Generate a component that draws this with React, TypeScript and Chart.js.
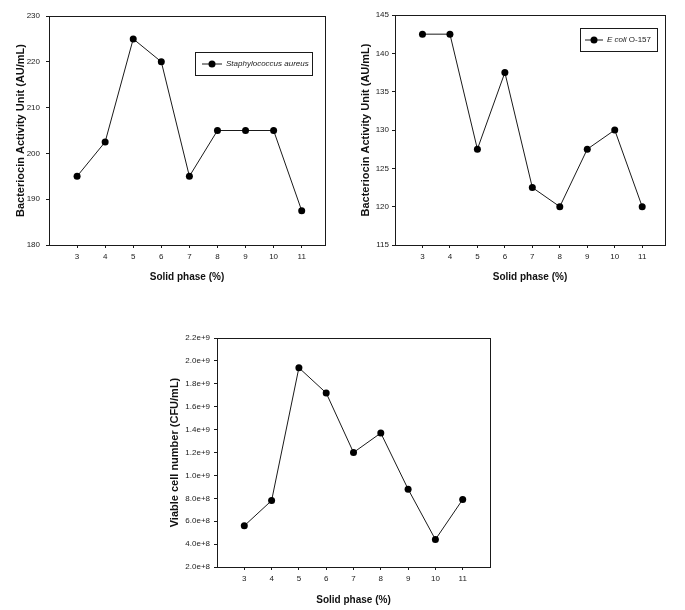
import React, { useEffect, useRef } from "react";
import { Chart, registerables } from "chart.js";

Chart.register(...registerables);

// ---- data ----
const solidPhase = [3, 4, 5, 6, 7, 8, 9, 10, 11];
const staphActivity = [195, 202.5, 225, 220, 195, 205, 205, 205, 187.5];
const ecoliActivity = [142.5, 142.5, 127.5, 137.5, 122.5, 120, 127.5, 130, 120];
const viableCells = [5.6e8, 7.8e8, 1.94e9, 1.72e9, 1.2e9, 1.37e9, 8.8e8, 4.4e8, 7.9e8];

const xTitle = "Solid phase (%)";
const yTitleActivity = "Bacteriocin Activity Unit (AU/mL)";
const yTitleCells = "Viable cell number (CFU/mL)";
const staphLegend = [{ text: "Staphylococcus aureus", italic: true }];
const ecoliLegend = [
  { text: "E coli", italic: true },
  { text: " O-157", italic: false },
];

const FAMILY = 'Arial, "Liberation Sans", Helvetica, sans-serif';
const INK = "#1a1a1a";

type Part = { text: string; italic: boolean };
type Panel = {
  left: number;
  top: number;
  width: number;
  height: number;
  values: number[];
  yMin: number;
  yMax: number;
  yStep: number;
  xMax: number;
  yFormat: (v: number) => string;
  yTitle: string;
  pad: { left: number; top: number; right: number; bottom: number };
  yWidth: number;
  xHeight: number;
  yTickPad: number;
  yTitlePad: number;
  xTickPad: number;
  xTitlePad: number;
  legend?: { x: number; y: number; w: number; h: number; l1: number; l2: number; tx: number; parts: Part[] };
};

const framePlugin = {
  id: "frame",
  afterDraw(chart: any) {
    const { ctx, chartArea: a } = chart;
    ctx.save();
    ctx.strokeStyle = INK;
    ctx.lineWidth = 1;
    ctx.strokeRect(
      Math.round(a.left) + 0.5,
      Math.round(a.top) + 0.5,
      Math.round(a.right - a.left),
      Math.round(a.bottom - a.top)
    );
    ctx.restore();
  },
};

function makeLegend(lg: NonNullable<Panel["legend"]>) {
  return {
    id: "boxLegend",
    afterDraw(chart: any) {
      const ctx = chart.ctx;
      ctx.save();
      ctx.strokeStyle = INK;
      ctx.lineWidth = 1;
      ctx.strokeRect(lg.x + 0.5, lg.y + 0.5, lg.w, lg.h);
      const cy = lg.y + lg.h / 2 + 0.5;
      ctx.beginPath();
      ctx.moveTo(lg.l1, cy);
      ctx.lineTo(lg.l2, cy);
      ctx.stroke();
      ctx.beginPath();
      ctx.arc((lg.l1 + lg.l2) / 2, cy, 3.5, 0, Math.PI * 2);
      ctx.fillStyle = "#000";
      ctx.fill();
      ctx.fillStyle = INK;
      ctx.textBaseline = "middle";
      ctx.textAlign = "left";
      let tx = lg.tx;
      for (const p of lg.parts) {
        ctx.font = `${p.italic ? "italic " : ""}8px ${FAMILY}`;
        ctx.fillText(p.text, tx, cy);
        tx += ctx.measureText(p.text).width;
      }
      ctx.restore();
    },
  };
}

const panels: Panel[] = [
  {
    left: 0,
    top: 0,
    width: 340,
    height: 295,
    values: staphActivity,
    yMin: 180,
    yMax: 230,
    yStep: 10,
    xMax: 11.83,
    yFormat: (v) => String(v),
    yTitle: yTitleActivity,
    pad: { left: 0, top: 16, right: 15, bottom: 0 },
    yWidth: 49,
    xHeight: 50,
    yTickPad: 6,
    yTitlePad: 14,
    xTickPad: 4,
    xTitlePad: 12,
    legend: { x: 195, y: 52, w: 117, h: 23, l1: 202, l2: 222, tx: 226, parts: staphLegend },
  },
  {
    left: 340,
    top: 0,
    width: 345,
    height: 295,
    values: ecoliActivity,
    yMin: 115,
    yMax: 145,
    yStep: 5,
    xMax: 11.83,
    yFormat: (v) => String(v),
    yTitle: yTitleActivity,
    pad: { left: 0, top: 15, right: 20, bottom: 0 },
    yWidth: 55,
    xHeight: 50,
    yTickPad: 3,
    yTitlePad: 19,
    xTickPad: 4,
    xTitlePad: 12,
    legend: { x: 240, y: 28, w: 77, h: 23, l1: 245, l2: 263, tx: 267, parts: ecoliLegend },
  },
  {
    left: 160,
    top: 320,
    width: 360,
    height: 290,
    values: viableCells,
    yMin: 2e8,
    yMax: 2.2e9,
    yStep: 2e8,
    xMax: 12,
    yFormat: (v) => Number(v).toExponential(1),
    yTitle: yTitleCells,
    pad: { left: 0, top: 18, right: 30, bottom: 0 },
    yWidth: 57,
    xHeight: 43,
    yTickPad: 4,
    yTitlePad: 8,
    xTickPad: 4,
    xTitlePad: 4,
  },
];

function PanelChart({ p }: { p: Panel }) {
  const ref = useRef<HTMLCanvasElement | null>(null);
  useEffect(() => {
    if (!ref.current) return;
    const plugins: any[] = [framePlugin];
    if (p.legend) plugins.push(makeLegend(p.legend));
    const chart = new Chart(ref.current, {
      type: "line",
      data: {
        datasets: [
          {
            label: "series",
            data: solidPhase.map((x, i) => ({ x, y: p.values[i] })),
            borderColor: INK,
            borderWidth: 1,
            pointRadius: 3.5,
            pointBackgroundColor: "#000",
            pointBorderColor: "#000",
            pointBorderWidth: 0,
            tension: 0,
            fill: false,
          },
        ],
      },
      options: {
        animation: false,
        responsive: false,
        devicePixelRatio: 1,
        layout: { padding: p.pad },
        plugins: { legend: { display: false }, tooltip: { enabled: false } },
        scales: {
          x: {
            type: "linear",
            min: 2,
            max: p.xMax,
            afterBuildTicks: (s: any) => {
              s.ticks = solidPhase.map((v) => ({ value: v }));
            },
            afterFit: (s: any) => {
              s.height = p.xHeight;
            },
            ticks: {
              autoSkip: false,
              maxRotation: 0,
              padding: p.xTickPad,
              color: INK,
              font: { size: 8, family: FAMILY },
              callback: (v: any) => String(v),
            },
            grid: { drawOnChartArea: false, drawTicks: true, tickLength: 3, color: INK },
            border: { display: false },
            title: {
              display: true,
              text: xTitle,
              color: "#111",
              font: { size: 10, weight: "bold", family: FAMILY },
              padding: { top: 0, bottom: p.xTitlePad },
            },
          },
          y: {
            type: "linear",
            min: p.yMin,
            max: p.yMax,
            afterFit: (s: any) => {
              s.width = p.yWidth;
            },
            ticks: {
              stepSize: p.yStep,
              padding: p.yTickPad,
              color: INK,
              font: { size: 8, family: FAMILY },
              callback: (v: any) => p.yFormat(Number(v)),
            },
            grid: { drawOnChartArea: false, drawTicks: true, tickLength: 3, color: INK },
            border: { display: false },
            title: {
              display: true,
              text: p.yTitle,
              color: "#111",
              font: { size: 11, weight: "bold", family: FAMILY },
              padding: { top: p.yTitlePad, bottom: 0 },
            },
          },
        },
      },
      plugins,
    } as any);
    return () => chart.destroy();
  }, [p]);
  return (
    <canvas
      ref={ref}
      width={p.width}
      height={p.height}
      style={{ position: "absolute", left: p.left, top: p.top, width: p.width, height: p.height }}
    />
  );
}

export default function App() {
  return (
    <div style={{ position: "absolute", left: 0, top: 0, width: 685, height: 610, background: "#fff" }}>
      {panels.map((p, i) => (
        <PanelChart key={i} p={p} />
      ))}
    </div>
  );
}
